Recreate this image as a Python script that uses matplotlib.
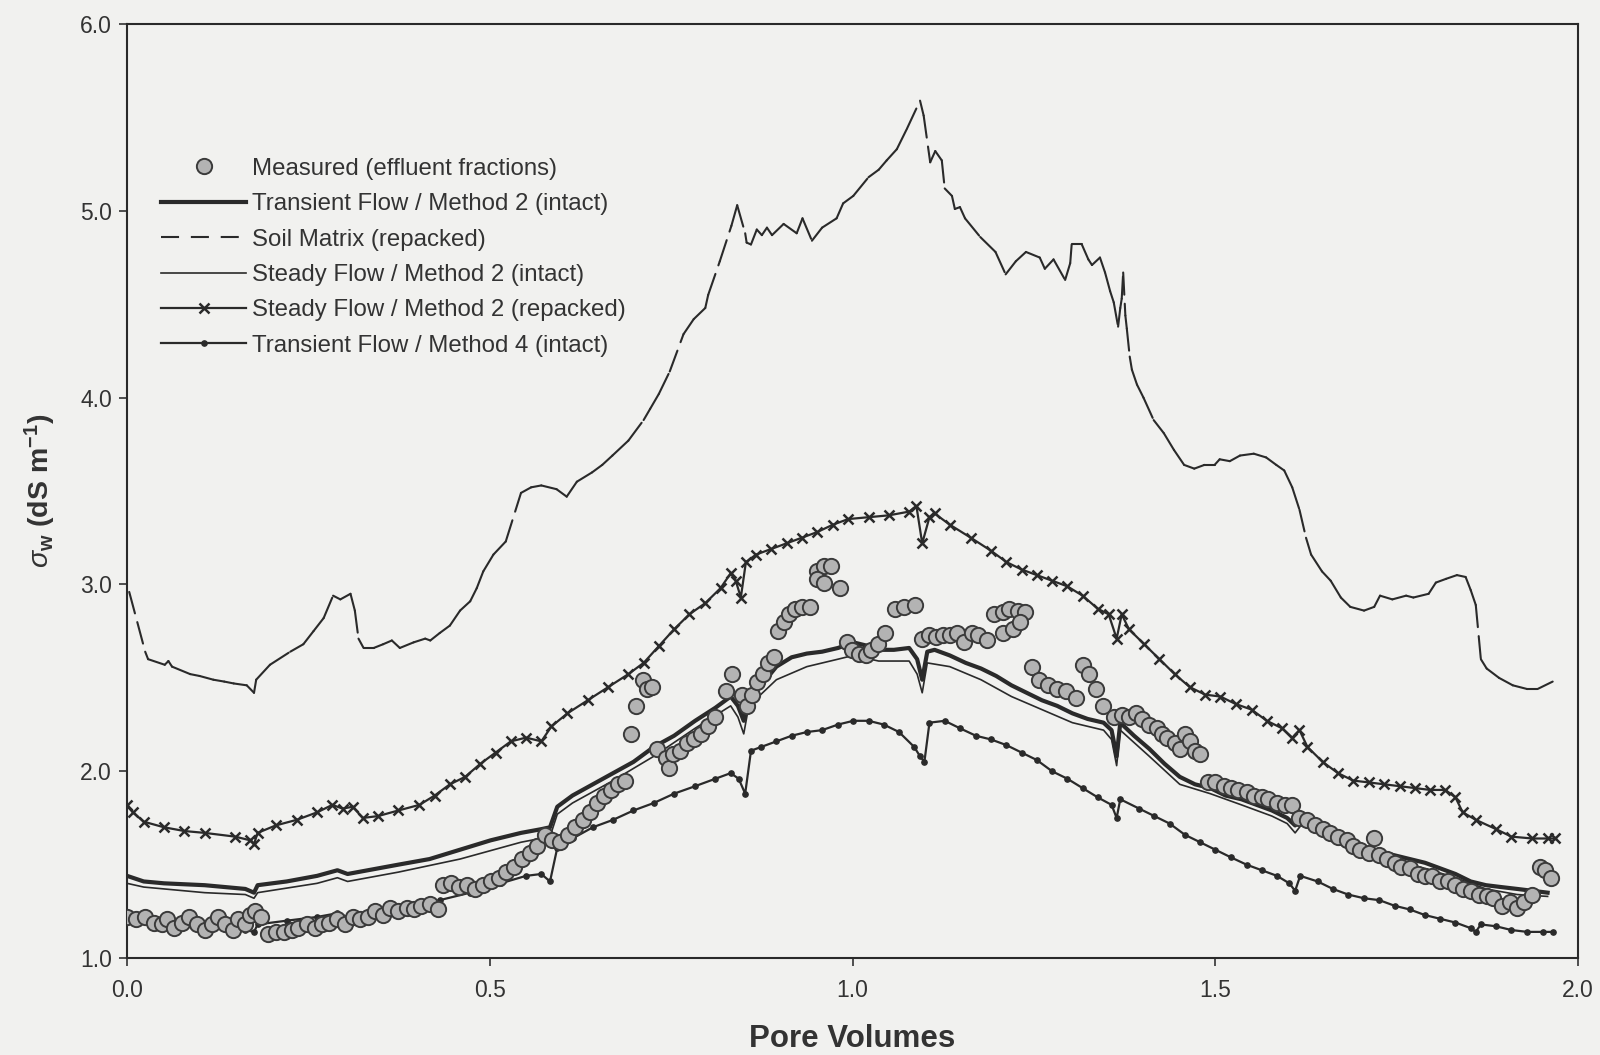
import numpy as np
import matplotlib
matplotlib.use("Agg")
import matplotlib.pyplot as plt
from matplotlib.collections import LineCollection
from matplotlib.lines import Line2D

# Effluent electrical conductivity vs. pore volumes
soil_matrix = [
    (0.003, 2.96), (0.025, 2.64), (0.029, 2.60), (0.052, 2.57), (0.057, 2.59), (0.062, 2.56),
    (0.087, 2.52), (0.100, 2.51), (0.119, 2.49), (0.134, 2.48), (0.147, 2.47), (0.165, 2.46),
    (0.175, 2.42), (0.178, 2.49), (0.197, 2.57), (0.225, 2.64), (0.243, 2.68), (0.257, 2.75),
    (0.271, 2.82), (0.284, 2.94), (0.294, 2.92), (0.308, 2.95), (0.314, 2.86), (0.319, 2.71),
    (0.326, 2.66), (0.340, 2.66), (0.353, 2.68), (0.365, 2.70), (0.376, 2.66), (0.395, 2.69),
    (0.411, 2.71), (0.418, 2.70), (0.431, 2.74), (0.445, 2.78), (0.459, 2.86), (0.473, 2.91),
    (0.482, 2.98), (0.491, 3.07), (0.505, 3.16), (0.522, 3.23), (0.543, 3.49), (0.557, 3.52),
    (0.571, 3.53), (0.592, 3.51), (0.606, 3.47), (0.620, 3.55), (0.641, 3.60), (0.655, 3.64),
    (0.669, 3.69), (0.691, 3.77), (0.712, 3.88), (0.721, 3.94), (0.733, 4.02), (0.748, 4.14),
    (0.767, 4.34), (0.781, 4.42), (0.797, 4.48), (0.801, 4.55), (0.817, 4.73), (0.833, 4.92),
    (0.841, 5.03), (0.852, 4.88), (0.854, 4.83), (0.860, 4.82), (0.868, 4.90), (0.875, 4.87),
    (0.882, 4.91), (0.889, 4.87), (0.905, 4.93), (0.923, 4.88), (0.931, 4.96), (0.944, 4.84),
    (0.958, 4.91), (0.978, 4.96), (0.987, 5.04), (1.001, 5.08), (1.022, 5.18), (1.036, 5.22),
    (1.047, 5.27), (1.061, 5.33), (1.075, 5.44), (1.093, 5.59), (1.098, 5.51), (1.107, 5.26),
    (1.114, 5.32), (1.123, 5.27), (1.127, 5.12), (1.137, 5.08), (1.141, 5.01), (1.148, 5.02),
    (1.155, 4.96), (1.176, 4.86), (1.197, 4.78), (1.211, 4.66), (1.225, 4.73), (1.239, 4.78),
    (1.258, 4.75), (1.265, 4.69), (1.277, 4.74), (1.293, 4.63), (1.300, 4.72), (1.302, 4.82),
    (1.316, 4.82), (1.325, 4.74), (1.330, 4.71), (1.341, 4.75), (1.348, 4.67), (1.355, 4.57),
    (1.360, 4.51), (1.366, 4.38), (1.369, 4.48), (1.371, 4.53), (1.373, 4.67), (1.376, 4.44),
    (1.378, 4.37), (1.382, 4.22), (1.385, 4.15), (1.392, 4.07), (1.401, 4.00), (1.415, 3.88),
    (1.429, 3.81), (1.443, 3.72), (1.457, 3.64), (1.471, 3.62), (1.485, 3.64), (1.499, 3.64),
    (1.506, 3.67), (1.520, 3.66), (1.534, 3.69), (1.553, 3.70), (1.570, 3.68), (1.584, 3.64),
    (1.595, 3.61), (1.606, 3.52), (1.616, 3.40), (1.625, 3.25), (1.632, 3.16), (1.647, 3.07),
    (1.659, 3.02), (1.673, 2.93), (1.686, 2.88), (1.705, 2.86), (1.719, 2.88), (1.727, 2.94),
    (1.744, 2.92), (1.763, 2.94), (1.773, 2.93), (1.794, 2.95), (1.804, 3.01), (1.818, 3.03),
    (1.833, 3.05), (1.845, 3.04), (1.852, 2.97), (1.859, 2.89), (1.866, 2.60), (1.874, 2.55),
    (1.891, 2.50), (1.910, 2.46), (1.930, 2.44), (1.944, 2.44), (1.965, 2.48),
]

steady_repacked = [
    (0.000, 1.82), (0.008, 1.78), (0.023, 1.73), (0.051, 1.70), (0.079, 1.68), (0.107, 1.67),
    (0.149, 1.65), (0.170, 1.63), (0.175, 1.61), (0.180, 1.67), (0.205, 1.71), (0.234, 1.74),
    (0.262, 1.78), (0.283, 1.82), (0.297, 1.80), (0.311, 1.81), (0.325, 1.75), (0.346, 1.76),
    (0.374, 1.79), (0.403, 1.82), (0.424, 1.87), (0.445, 1.93), (0.466, 1.97), (0.487, 2.04),
    (0.508, 2.10), (0.529, 2.16), (0.550, 2.18), (0.571, 2.16), (0.585, 2.24), (0.607, 2.31),
    (0.635, 2.38), (0.663, 2.45), (0.691, 2.52), (0.712, 2.58), (0.733, 2.67), (0.754, 2.76),
    (0.775, 2.84), (0.797, 2.90), (0.818, 2.98), (0.832, 3.06), (0.839, 3.02), (0.846, 2.93),
    (0.853, 3.12), (0.867, 3.16), (0.888, 3.19), (0.909, 3.22), (0.930, 3.25), (0.951, 3.28),
    (0.973, 3.32), (0.994, 3.35), (1.022, 3.36), (1.050, 3.37), (1.078, 3.39), (1.088, 3.42),
    (1.096, 3.22), (1.106, 3.36), (1.113, 3.38), (1.134, 3.32), (1.163, 3.25), (1.191, 3.18),
    (1.212, 3.12), (1.233, 3.08), (1.254, 3.05), (1.275, 3.02), (1.296, 2.99), (1.317, 2.94),
    (1.338, 2.87), (1.353, 2.84), (1.364, 2.71), (1.371, 2.84), (1.381, 2.76), (1.402, 2.68),
    (1.423, 2.60), (1.444, 2.52), (1.465, 2.45), (1.486, 2.41), (1.507, 2.40), (1.528, 2.36),
    (1.550, 2.33), (1.571, 2.27), (1.592, 2.23), (1.606, 2.18), (1.616, 2.22), (1.627, 2.13),
    (1.648, 2.05), (1.669, 1.99), (1.690, 1.95), (1.712, 1.94), (1.733, 1.93), (1.754, 1.92),
    (1.775, 1.91), (1.796, 1.90), (1.817, 1.90), (1.831, 1.86), (1.841, 1.78), (1.859, 1.74),
    (1.887, 1.69), (1.908, 1.65), (1.937, 1.64), (1.958, 1.64), (1.968, 1.64),
]

transient_m2 = [
    (0.000, 1.44), (0.023, 1.41), (0.051, 1.40), (0.107, 1.39), (0.163, 1.37), (0.175, 1.35),
    (0.180, 1.39), (0.220, 1.41), (0.262, 1.44), (0.290, 1.47), (0.304, 1.45), (0.332, 1.47),
    (0.374, 1.50), (0.417, 1.53), (0.459, 1.58), (0.501, 1.63), (0.543, 1.67), (0.571, 1.69),
    (0.583, 1.70), (0.593, 1.81), (0.614, 1.87), (0.642, 1.93), (0.670, 1.99), (0.698, 2.05),
    (0.726, 2.13), (0.754, 2.19), (0.783, 2.27), (0.811, 2.34), (0.832, 2.40), (0.842, 2.35),
    (0.850, 2.27), (0.857, 2.41), (0.874, 2.46), (0.895, 2.56), (0.916, 2.61), (0.937, 2.63),
    (0.958, 2.64), (0.980, 2.66), (1.001, 2.69), (1.022, 2.67), (1.036, 2.65), (1.057, 2.65),
    (1.078, 2.66), (1.089, 2.60), (1.096, 2.49), (1.103, 2.64), (1.113, 2.65), (1.134, 2.62),
    (1.156, 2.58), (1.177, 2.55), (1.198, 2.51), (1.219, 2.46), (1.240, 2.42), (1.261, 2.38),
    (1.282, 2.35), (1.303, 2.31), (1.324, 2.28), (1.346, 2.26), (1.357, 2.22), (1.364, 2.08),
    (1.369, 2.26), (1.388, 2.19), (1.409, 2.12), (1.430, 2.04), (1.451, 1.97), (1.472, 1.93),
    (1.493, 1.91), (1.514, 1.87), (1.536, 1.85), (1.557, 1.82), (1.578, 1.79), (1.599, 1.75),
    (1.610, 1.71), (1.620, 1.75), (1.641, 1.71), (1.662, 1.65), (1.683, 1.62), (1.705, 1.59),
    (1.726, 1.57), (1.747, 1.55), (1.768, 1.53), (1.789, 1.51), (1.810, 1.48), (1.831, 1.45),
    (1.852, 1.41), (1.873, 1.39), (1.894, 1.38), (1.916, 1.37), (1.937, 1.36), (1.958, 1.35),
]

steady_intact = [
    (0.000, 1.40), (0.023, 1.38), (0.107, 1.35), (0.163, 1.34), (0.175, 1.32), (0.180, 1.35),
    (0.262, 1.40), (0.290, 1.43), (0.304, 1.41), (0.374, 1.46), (0.459, 1.53), (0.543, 1.62),
    (0.583, 1.65), (0.593, 1.77), (0.614, 1.83), (0.670, 1.95), (0.726, 2.08), (0.783, 2.23),
    (0.832, 2.35), (0.842, 2.29), (0.850, 2.20), (0.857, 2.35), (0.895, 2.49), (0.937, 2.56),
    (0.980, 2.60), (1.001, 2.62), (1.036, 2.59), (1.078, 2.59), (1.089, 2.52), (1.096, 2.42),
    (1.103, 2.58), (1.134, 2.56), (1.177, 2.49), (1.219, 2.40), (1.261, 2.33), (1.303, 2.26),
    (1.346, 2.22), (1.357, 2.17), (1.364, 2.03), (1.369, 2.22), (1.409, 2.08), (1.451, 1.93),
    (1.493, 1.88), (1.536, 1.82), (1.578, 1.76), (1.599, 1.72), (1.610, 1.67), (1.620, 1.72),
    (1.662, 1.62), (1.705, 1.56), (1.747, 1.52), (1.789, 1.48), (1.831, 1.43), (1.873, 1.37),
    (1.916, 1.34), (1.958, 1.33),
]

transient_m4 = [
    (0.000, 1.21), (0.023, 1.20), (0.051, 1.18), (0.107, 1.17), (0.163, 1.15), (0.175, 1.14),
    (0.180, 1.18), (0.220, 1.20), (0.262, 1.22), (0.290, 1.24), (0.304, 1.22), (0.346, 1.25),
    (0.388, 1.27), (0.431, 1.31), (0.473, 1.35), (0.515, 1.40), (0.550, 1.44), (0.571, 1.45),
    (0.583, 1.41), (0.593, 1.59), (0.614, 1.64), (0.642, 1.70), (0.670, 1.74), (0.698, 1.79),
    (0.726, 1.83), (0.754, 1.88), (0.783, 1.92), (0.811, 1.96), (0.832, 1.99), (0.843, 1.96),
    (0.852, 1.88), (0.860, 2.11), (0.874, 2.13), (0.895, 2.16), (0.916, 2.19), (0.937, 2.21),
    (0.958, 2.22), (0.980, 2.25), (1.001, 2.27), (1.022, 2.27), (1.043, 2.25), (1.064, 2.21),
    (1.085, 2.13), (1.093, 2.08), (1.099, 2.05), (1.106, 2.26), (1.127, 2.27), (1.148, 2.23),
    (1.170, 2.19), (1.191, 2.17), (1.212, 2.14), (1.233, 2.10), (1.254, 2.06), (1.275, 2.00),
    (1.296, 1.96), (1.317, 1.91), (1.338, 1.86), (1.357, 1.82), (1.364, 1.75), (1.369, 1.85),
    (1.395, 1.80), (1.416, 1.76), (1.437, 1.72), (1.458, 1.66), (1.479, 1.62), (1.500, 1.58),
    (1.521, 1.54), (1.543, 1.50), (1.564, 1.47), (1.585, 1.44), (1.602, 1.40), (1.610, 1.36),
    (1.617, 1.44), (1.641, 1.41), (1.662, 1.37), (1.683, 1.34), (1.705, 1.32), (1.726, 1.31),
    (1.747, 1.28), (1.768, 1.26), (1.789, 1.23), (1.810, 1.21), (1.831, 1.19), (1.852, 1.16),
    (1.859, 1.14), (1.866, 1.18), (1.887, 1.17), (1.908, 1.15), (1.930, 1.14), (1.951, 1.14),
    (1.965, 1.14),
]

measured = [
    (0.000, 1.22), (0.013, 1.21), (0.025, 1.22), (0.037, 1.19), (0.048, 1.18), (0.055, 1.21),
    (0.065, 1.16), (0.076, 1.19), (0.086, 1.22), (0.097, 1.18), (0.107, 1.15), (0.117, 1.18),
    (0.125, 1.22), (0.135, 1.18), (0.146, 1.15), (0.153, 1.21), (0.163, 1.18), (0.170, 1.23),
    (0.177, 1.25), (0.184, 1.22),
    (0.194, 1.13), (0.205, 1.14), (0.217, 1.14), (0.227, 1.15), (0.236, 1.16), (0.248, 1.18),
    (0.259, 1.16), (0.269, 1.18), (0.279, 1.19), (0.290, 1.21), (0.300, 1.18), (0.311, 1.22),
    (0.321, 1.21), (0.332, 1.22), (0.342, 1.25), (0.353, 1.23), (0.363, 1.27), (0.374, 1.25),
    (0.386, 1.27), (0.395, 1.26), (0.405, 1.28), (0.417, 1.29), (0.428, 1.26),
    (0.436, 1.39), (0.447, 1.40), (0.458, 1.38), (0.469, 1.39), (0.480, 1.37), (0.491, 1.39),
    (0.502, 1.41), (0.512, 1.43), (0.522, 1.46), (0.533, 1.49), (0.544, 1.53), (0.555, 1.56),
    (0.565, 1.60), (0.576, 1.66), (0.586, 1.63), (0.597, 1.62), (0.608, 1.66), (0.618, 1.70),
    (0.628, 1.74), (0.638, 1.78), (0.648, 1.83), (0.658, 1.87), (0.667, 1.90), (0.677, 1.93),
    (0.687, 1.95),
    (0.694, 2.20), (0.702, 2.35), (0.711, 2.49), (0.716, 2.44), (0.723, 2.45),
    (0.730, 2.12), (0.743, 2.07), (0.747, 2.02), (0.752, 2.09), (0.762, 2.11), (0.772, 2.15),
    (0.781, 2.17), (0.791, 2.20), (0.801, 2.24), (0.810, 2.29), (0.825, 2.43), (0.834, 2.52),
    (0.847, 2.41), (0.854, 2.35), (0.861, 2.41), (0.868, 2.48), (0.876, 2.52), (0.883, 2.58),
    (0.892, 2.61),
    (0.897, 2.75), (0.905, 2.80), (0.912, 2.84), (0.921, 2.87), (0.931, 2.88), (0.941, 2.88),
    (0.951, 3.07), (0.960, 3.10), (0.970, 3.10), (0.951, 3.03), (0.960, 3.01), (0.982, 2.98),
    (0.992, 2.69), (0.999, 2.65), (1.009, 2.63), (1.018, 2.62), (1.026, 2.65), (1.035, 2.68),
    (1.045, 2.74),
    (1.059, 2.87), (1.071, 2.88), (1.086, 2.89),
    (1.096, 2.71), (1.105, 2.73), (1.115, 2.72), (1.124, 2.73), (1.134, 2.73), (1.144, 2.74),
    (1.153, 2.69), (1.164, 2.74), (1.173, 2.73), (1.185, 2.70),
    (1.195, 2.84), (1.207, 2.85), (1.216, 2.87), (1.228, 2.86), (1.238, 2.85), (1.207, 2.74),
    (1.221, 2.76), (1.231, 2.80),
    (1.248, 2.56), (1.257, 2.49), (1.269, 2.46), (1.282, 2.44), (1.294, 2.43), (1.308, 2.39),
    (1.318, 2.57), (1.326, 2.52), (1.335, 2.44), (1.345, 2.35),
    (1.360, 2.29), (1.371, 2.30), (1.381, 2.29), (1.391, 2.31), (1.399, 2.28), (1.409, 2.25),
    (1.419, 2.23), (1.427, 2.20), (1.434, 2.18), (1.444, 2.15), (1.451, 2.12), (1.458, 2.20),
    (1.465, 2.16), (1.472, 2.11), (1.479, 2.09),
    (1.490, 1.94), (1.500, 1.94), (1.512, 1.92), (1.521, 1.91), (1.531, 1.90), (1.543, 1.89),
    (1.554, 1.87), (1.564, 1.86), (1.573, 1.85), (1.585, 1.83), (1.596, 1.82), (1.606, 1.82),
    (1.616, 1.75), (1.627, 1.74), (1.638, 1.71), (1.648, 1.69), (1.658, 1.67), (1.669, 1.65),
    (1.681, 1.63), (1.690, 1.60), (1.700, 1.58), (1.712, 1.56), (1.719, 1.64), (1.726, 1.55),
    (1.737, 1.53), (1.747, 1.51), (1.756, 1.49), (1.768, 1.48), (1.779, 1.45), (1.789, 1.44),
    (1.799, 1.44), (1.810, 1.41), (1.821, 1.41), (1.831, 1.39), (1.841, 1.37), (1.852, 1.36),
    (1.864, 1.34), (1.874, 1.33), (1.883, 1.32), (1.895, 1.28), (1.906, 1.30), (1.916, 1.27),
    (1.926, 1.30), (1.937, 1.34), (1.947, 1.49), (1.955, 1.47), (1.963, 1.43),
]

x_ticks = [0.0, 0.5, 1.0, 1.5, 2.0]
y_ticks = [1.0, 2.0, 3.0, 4.0, 5.0, 6.0]

ink = '#2a2a2a'
text_col = '#333333'
paper = '#f1f1ef'

plt.rcParams['font.family'] = ['Liberation Sans', 'DejaVu Sans']
plt.rcParams['mathtext.fontset'] = 'custom'
plt.rcParams['mathtext.rm'] = 'Liberation Sans'
plt.rcParams['mathtext.bf'] = 'Liberation Sans:bold'
plt.rcParams['mathtext.it'] = 'Liberation Sans:italic'
plt.rcParams['lines.scale_dashes'] = False

fig = plt.figure(figsize=(16, 10.55), dpi=100)
fig.patch.set_facecolor(paper)
ax = fig.add_axes([0.0794, 0.0919, 0.9069, 0.8853])
ax.set_facecolor(paper)


def unzip(pairs):
    arr = np.array(pairs)
    return arr[:, 0], arr[:, 1]


# soil matrix: dash pattern restarts on every segment, so only long steps show gaps
sx, sy = unzip(soil_matrix)
segs = [[(sx[i], sy[i]), (sx[i + 1], sy[i + 1])] for i in range(len(sx) - 1)]
lc = LineCollection(segs, colors=ink, linewidths=1.5, linestyles=[(0, (16, 6.5))],
                    capstyle='round', zorder=2)
ax.add_collection(lc)

rx, ry = unzip(steady_repacked)
ax.plot(rx, ry, color=ink, lw=1.6, marker='x', ms=6.5, mew=1.8, zorder=3)

tx, ty = unzip(transient_m2)
ax.plot(tx, ty, color=ink, lw=3.0, zorder=3)

ix, iy = unzip(steady_intact)
ax.plot(ix, iy, color=ink, lw=1.2, zorder=3)

dx, dy = unzip(transient_m4)
ax.plot(dx, dy, color=ink, lw=1.6, marker='o', ms=3.8, zorder=3)

mx, my = unzip(measured)
ax.plot(mx, my, ls='none', marker='o', ms=11, mfc='#b3b3b3', mec='#3a3a3a', mew=1.4, zorder=4)

ax.set_xlim(0, 2.0)
ax.set_ylim(1.0, 6.0)
ax.set_xticks(x_ticks)
ax.set_yticks(y_ticks)
ax.set_xticklabels([f'{v:.1f}' for v in x_ticks])
ax.set_yticklabels([f'{v:.1f}' for v in y_ticks])
ax.tick_params(direction='out', length=6, width=1.2, colors=text_col, labelsize=16.5)
ax.tick_params(axis='x', pad=9)
ax.tick_params(axis='y', pad=5)
for sp in ax.spines.values():
    sp.set_linewidth(1.5)
    sp.set_color(ink)

ax.set_xlabel('Pore Volumes', fontsize=22.5, fontweight='bold', color=text_col, labelpad=16)
ax.set_ylabel(r'$\sigma_\mathbf{w}$ (dS m$^\mathbf{-1}$)', fontsize=20.5, fontweight='bold',
              color=text_col, labelpad=16)

handles = [
    Line2D([], [], ls='none', marker='o', ms=11, mfc='#b3b3b3', mec='#3a3a3a', mew=1.4),
    Line2D([], [], color=ink, lw=3.0),
    Line2D([], [], color=ink, lw=1.5, dashes=(13, 8.5)),
    Line2D([], [], color=ink, lw=1.2),
    Line2D([], [], color=ink, lw=1.6, marker='x', ms=6.5, mew=1.8),
    Line2D([], [], color=ink, lw=1.6, marker='o', ms=3.8),
]
labels = [
    'Measured (effluent fractions)',
    'Transient Flow / Method 2 (intact)',
    'Soil Matrix (repacked)',
    'Steady Flow / Method 2 (intact)',
    'Steady Flow / Method 2 (repacked)',
    'Transient Flow / Method 4 (intact)',
]
leg = ax.legend(handles, labels, loc='upper left', bbox_to_anchor=(0.0235, 0.857),
                frameon=False, fontsize=17.3, handlelength=3.55, handletextpad=0.25,
                labelspacing=0.56, borderpad=0, borderaxespad=0, numpoints=1)
for t in leg.get_texts():
    t.set_color(text_col)

fig.savefig('out.png', dpi=100, facecolor=paper)
